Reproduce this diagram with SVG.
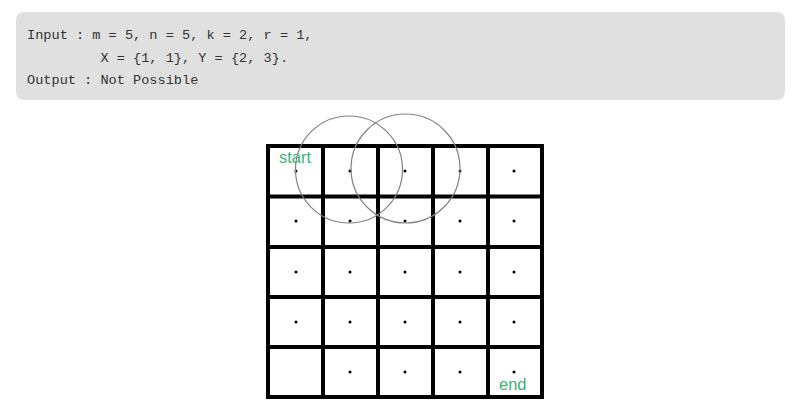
<svg xmlns="http://www.w3.org/2000/svg" width="801" height="417" viewBox="0 0 801 417">
<style>
.code{font-family:"Liberation Mono","DejaVu Sans Mono",monospace;font-size:13.6px;fill:#333;white-space:pre}
.g{stroke:#000;stroke-width:4;fill:none;stroke-linecap:square}
.dot{fill:#000}
.ring{fill:none;stroke:#808080;stroke-width:1.2}
.lbl{font-family:"Liberation Sans",Arial,sans-serif;font-size:16.5px;fill:#3cb371}
</style>
<rect width="801" height="417" fill="#fff"/>
<g id="code-box">
<rect x="16" y="12" width="769" height="88" rx="8" fill="#e0e0e0"/>
<text class="code" x="27" y="39" xml:space="preserve">Input : m = 5, n = 5, k = 2, r = 1,</text>
<text class="code" x="27" y="61.5" xml:space="preserve">         X = {1, 1}, Y = {2, 3}.</text>
<text class="code" x="27" y="84" xml:space="preserve">Output : Not Possible</text>
</g>
<g id="grid">
<rect class="g" x="268" y="146" width="274" height="251"/>
<path class="g" d="M323 146V397M378 146V397M433 146V397M488 146V397M268 196.5H542M268 247H542M268 297H542M268 347H542"/>
</g>
<g id="dots">
<circle class="dot" cx="296" cy="171" r="1.5"/><circle class="dot" cx="350" cy="171" r="1.5"/><circle class="dot" cx="405" cy="171" r="1.5"/><circle class="dot" cx="460" cy="171" r="1.5"/><circle class="dot" cx="514" cy="171" r="1.5"/>
<circle class="dot" cx="296" cy="221" r="1.5"/><circle class="dot" cx="350" cy="221" r="1.5"/><circle class="dot" cx="405" cy="221" r="1.5"/><circle class="dot" cx="460" cy="221" r="1.5"/><circle class="dot" cx="514" cy="221" r="1.5"/>
<circle class="dot" cx="296" cy="272" r="1.5"/><circle class="dot" cx="350" cy="272" r="1.5"/><circle class="dot" cx="405" cy="272" r="1.5"/><circle class="dot" cx="460" cy="272" r="1.5"/><circle class="dot" cx="514" cy="272" r="1.5"/>
<circle class="dot" cx="296" cy="322" r="1.5"/><circle class="dot" cx="350" cy="322" r="1.5"/><circle class="dot" cx="405" cy="322" r="1.5"/><circle class="dot" cx="460" cy="322" r="1.5"/><circle class="dot" cx="514" cy="322" r="1.5"/>
<circle class="dot" cx="350" cy="372" r="1.5"/><circle class="dot" cx="405" cy="372" r="1.5"/><circle class="dot" cx="460" cy="372" r="1.5"/><circle class="dot" cx="514" cy="372" r="1.5"/>
</g>
<g id="sensors">
<circle class="ring" cx="349" cy="169.5" r="53.5"/>
<circle class="ring" cx="405.5" cy="168.5" r="54.5"/>
</g>
<g id="labels">
<text class="lbl" x="279" y="163">start</text>
<text class="lbl" x="499" y="390">end</text>
</g>
</svg>
